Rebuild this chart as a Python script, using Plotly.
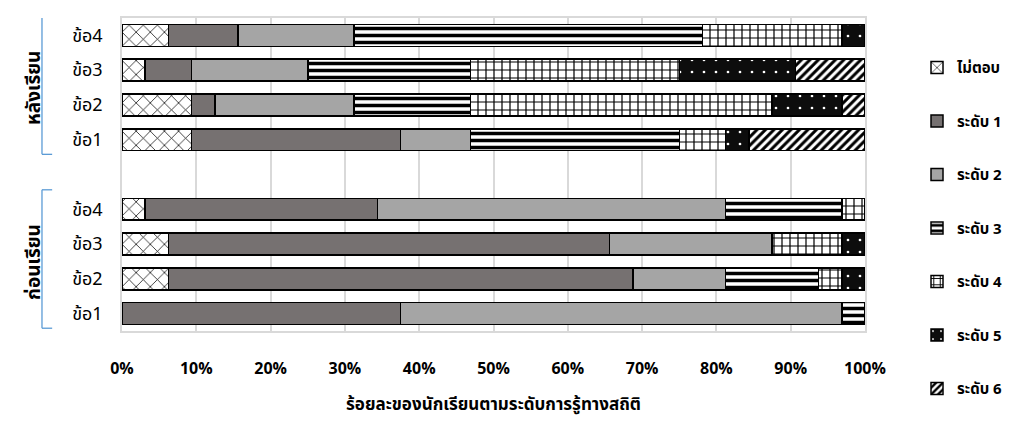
import plotly.graph_objects as go

# Items within each phase, listed bottom-to-top
items = ["ข้อ1", "ข้อ2", "ข้อ3", "ข้อ4"]
phases = ["ก่อนเรียน", "หลังเรียน"]

levels = ["ไม่ตอบ", "ระดับ 1", "ระดับ 2", "ระดับ 3", "ระดับ 4", "ระดับ 5", "ระดับ 6"]

# Percentage of students per level, items ข้อ1..ข้อ4
before = {
    "ไม่ตอบ":  [0.0, 6.25, 6.25, 3.125],
    "ระดับ 1": [37.5, 62.5, 59.375, 31.25],
    "ระดับ 2": [59.375, 12.5, 21.875, 46.875],
    "ระดับ 3": [3.125, 12.5, 0.0, 15.625],
    "ระดับ 4": [0.0, 3.125, 9.375, 3.125],
    "ระดับ 5": [0.0, 3.125, 3.125, 0.0],
    "ระดับ 6": [0.0, 0.0, 0.0, 0.0],
}
after = {
    "ไม่ตอบ":  [9.375, 9.375, 3.125, 6.25],
    "ระดับ 1": [28.125, 3.125, 6.25, 9.375],
    "ระดับ 2": [9.375, 18.75, 15.625, 15.625],
    "ระดับ 3": [28.125, 15.625, 21.875, 46.875],
    "ระดับ 4": [6.25, 40.625, 28.125, 18.75],
    "ระดับ 5": [3.125, 9.375, 15.625, 3.125],
    "ระดับ 6": [15.625, 3.125, 9.375, 0.0],
}

x_ticks = [0, 10, 20, 30, 40, 50, 60, 70, 80, 90, 100]

# Fill style per level: (base colour, pattern shape, pattern fg, size, solidity)
styles = {
    "ไม่ตอบ":  ("white", "x", "black", 10, 0.14),
    "ระดับ 1": ("#767171", "", "black", 8, 0.3),
    "ระดับ 2": ("#A5A5A5", "", "black", 8, 0.3),
    "ระดับ 3": ("white", "-", "black", 7, 0.5),
    "ระดับ 4": ("white", "+", "black", 8, 0.28),
    "ระดับ 5": ("#0D0D0D", ".", "white", 12, 0.04),
    "ระดับ 6": ("white", "/", "black", 6, 0.5),
}

# Row positions: phase blocks separated by one empty row
group_gap = 1
pos_before = list(range(len(items)))
pos_after = [p + len(items) + group_gap for p in pos_before]
positions = pos_before + pos_after
tick_text = items + items

fig = go.Figure()
for lv in levels:
    base, shape, fg, size, sol = styles[lv]
    pattern = dict(shape=shape, fgcolor=fg, bgcolor=base, size=size,
                   solidity=sol, fillmode="replace")
    fig.add_trace(go.Bar(
        y=positions,
        x=before[lv] + after[lv],
        name=lv,
        orientation="h",
        legendgroup=lv,
        marker=dict(color=base, pattern=pattern,
                    line=dict(color="black", width=1.5)),
    ))

font_family = "Tahoma, 'Noto Sans Thai', 'Noto Sans', sans-serif"

fig.update_layout(
    width=1022,
    height=428,
    barmode="stack",
    bargap=0.37,
    plot_bgcolor="white",
    paper_bgcolor="white",
    margin=dict(l=122, r=157, t=18, b=97, autoexpand=False),
    font=dict(family=font_family, color="black"),
    legend=dict(
        x=1.07, xanchor="left", y=0.88, yanchor="top",
        yref="container",
        font=dict(size=15, family=font_family, weight="bold"),
        tracegroupgap=31,
        traceorder="grouped",
        itemclick=False,
        maxheight=1,
    ),
)

fig.update_xaxes(
    range=[0, 100],
    tickvals=x_ticks,
    ticktext=[f"{v}%" for v in x_ticks],
    tickfont=dict(size=16, weight="bold"),
    ticklabelstandoff=22,
    showgrid=True,
    gridcolor="#D9D9D9",
    gridwidth=1.5,
    showline=True,
    linecolor="#D9D9D9",
    linewidth=1.5,
    mirror=True,
    zeroline=False,
    title=dict(text="ร้อยละของนักเรียนตามระดับการรู้ทางสถิติ",
               font=dict(size=17, weight="bold"), standoff=18),
)

fig.update_yaxes(
    range=[-0.5, max(positions) + 0.5],
    tickvals=positions,
    ticktext=tick_text,
    tickfont=dict(size=18),
    ticklabelstandoff=14,
    showgrid=False,
    showline=True,
    linecolor="#D9D9D9",
    linewidth=1.5,
    mirror=True,
    zeroline=False,
)

# Phase labels with bracket markers
bracket_color = "#5B9BD5"
for label, pos in [(phases[0], pos_before), (phases[1], pos_after)]:
    lo, hi = min(pos) - 0.42, max(pos) + 0.56
    fig.add_shape(type="line", xref="paper", yref="y", x0=-0.1077, x1=-0.1077,
                  y0=lo, y1=hi, line=dict(color=bracket_color, width=1.3))
    for yv in (lo, hi):
        fig.add_shape(type="line", xref="paper", yref="y", x0=-0.1077, x1=-0.094,
                      y0=yv, y1=yv, line=dict(color=bracket_color, width=1.3))
    fig.add_annotation(
        text=label, textangle=-90, xref="paper", yref="y",
        x=-0.14, y=(min(pos) + max(pos)) / 2, showarrow=False,
        font=dict(size=19, weight="bold", family=font_family),
    )

fig.write_html("out.html")
